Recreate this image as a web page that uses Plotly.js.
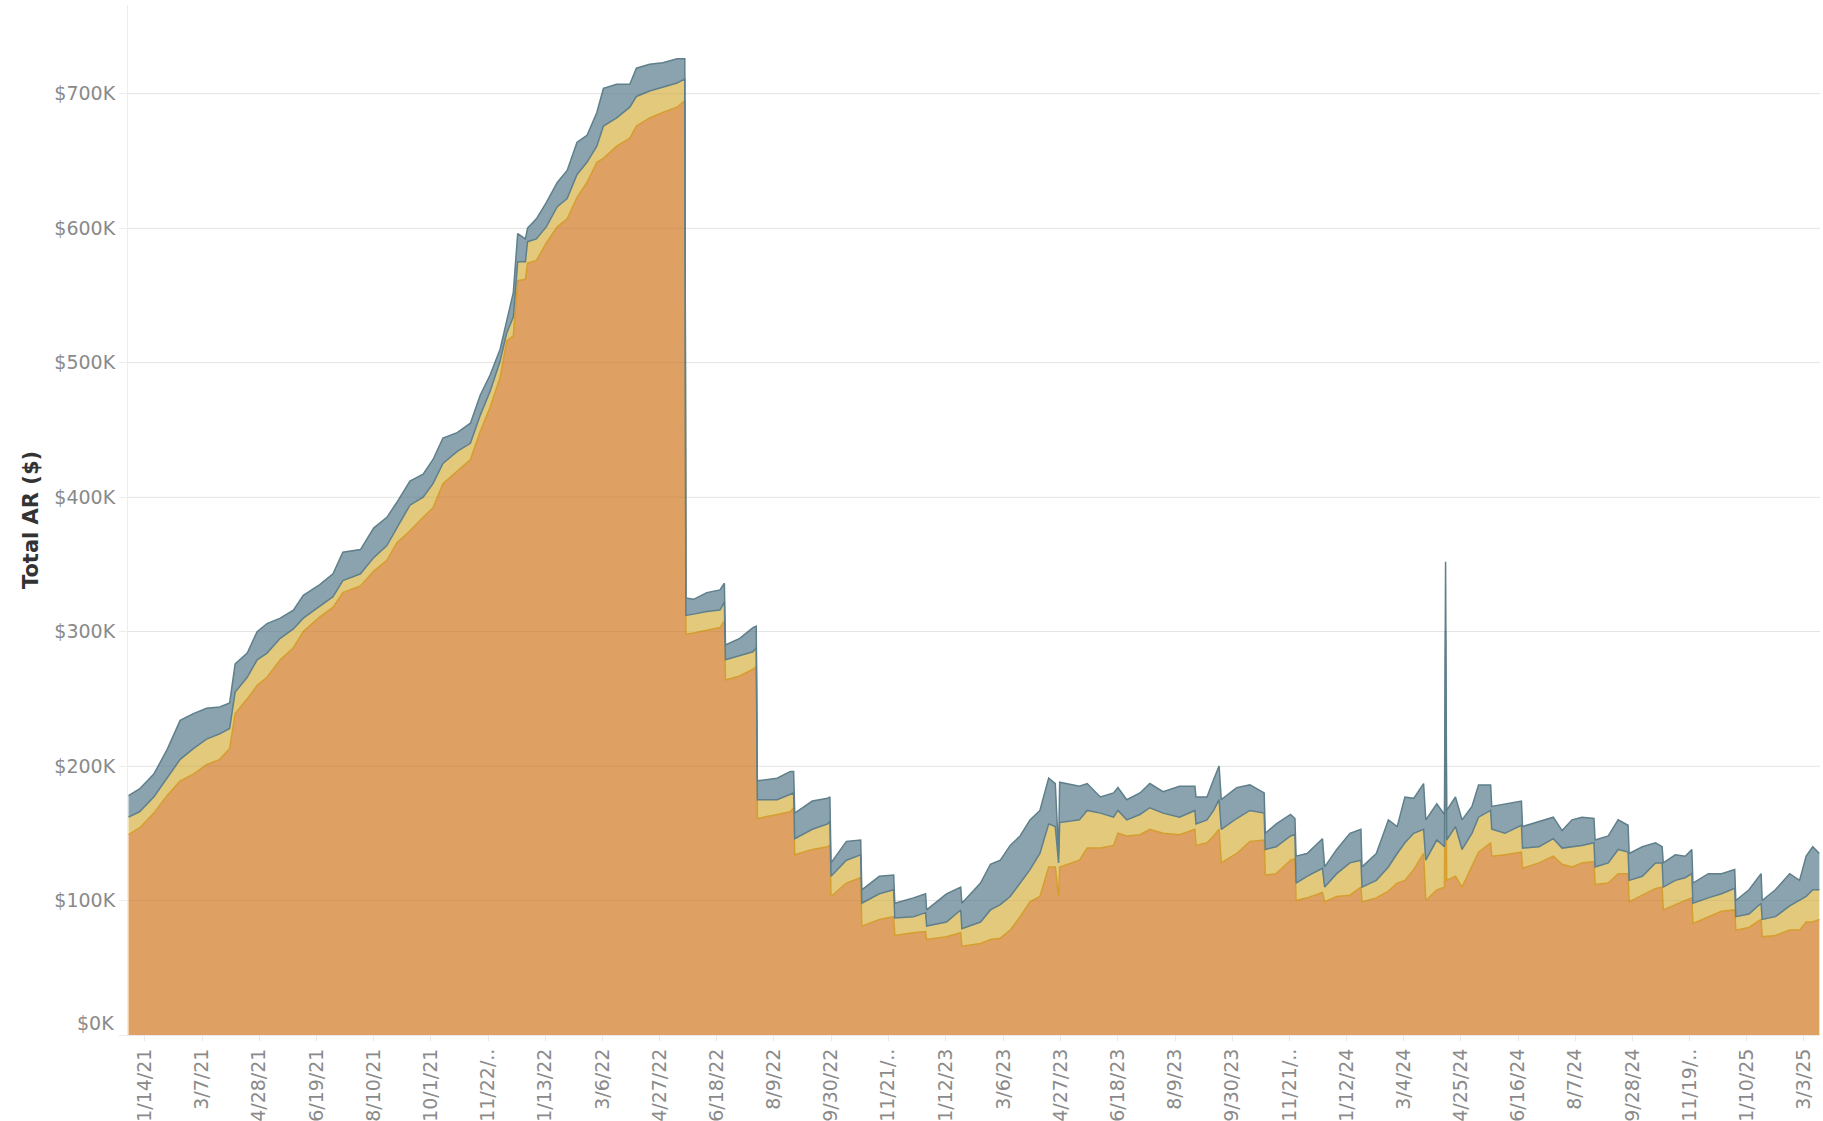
<!DOCTYPE html>
<html>
<head>
<meta charset="utf-8">
<script src="https://cdn.plot.ly/plotly-3.0.1.min.js"></script>
<style>
  html, body { margin: 0; padding: 0; background: #ffffff; }
  #chart { width: 1823px; height: 1121px; }
</style>
</head>
<body>
<div id="chart"></div>
<script>
// dates (snapshot days)
var dates = [
  "2020-12-30","2021-01-09","2021-01-22","2021-02-03","2021-02-15","2021-02-27","2021-03-11","2021-03-23","2021-04-01","2021-04-06",
  "2021-04-17","2021-04-26","2021-05-05","2021-05-17","2021-05-29","2021-06-07","2021-06-22","2021-07-04","2021-07-13","2021-07-29",
  "2021-08-10","2021-08-22","2021-08-31","2021-09-12","2021-09-24","2021-10-03","2021-10-12","2021-10-25","2021-11-06","2021-11-15",
  "2021-11-24","2021-12-03","2021-12-09","2021-12-15","2021-12-19","2021-12-26","2021-12-28","2022-01-05","2022-01-14","2022-01-24",
  "2022-02-02","2022-02-11","2022-02-20","2022-03-01","2022-03-07","2022-03-19","2022-03-31","2022-04-06","2022-04-18","2022-04-30",
  "2022-05-13","2022-05-20","2022-05-21","2022-05-28","2022-06-09","2022-06-21","2022-06-25","2022-06-26","2022-07-09","2022-07-21",
  "2022-07-24","2022-07-25","2022-08-12","2022-08-24","2022-08-27","2022-08-28","2022-09-13","2022-09-27","2022-09-29","2022-09-30",
  "2022-10-14","2022-10-27","2022-10-28","2022-11-13","2022-11-26","2022-11-27","2022-12-14","2022-12-25","2022-12-26","2023-01-13",
  "2023-01-26","2023-01-27","2023-02-13","2023-02-22","2023-03-03","2023-03-12","2023-03-21","2023-03-30","2023-04-08","2023-04-16",
  "2023-04-22","2023-04-25","2023-04-26","2023-05-14","2023-05-21","2023-06-02","2023-06-14","2023-06-18","2023-06-26","2023-07-08",
  "2023-07-17","2023-07-29","2023-08-13","2023-08-27","2023-08-28","2023-09-07","2023-09-13","2023-09-18","2023-09-20","2023-10-04",
  "2023-10-16","2023-10-29","2023-10-30","2023-11-09","2023-11-22","2023-11-26","2023-11-27","2023-12-07","2023-12-21","2023-12-23",
  "2024-01-03","2024-01-15","2024-01-25","2024-01-26","2024-02-08","2024-02-19","2024-02-27","2024-03-05","2024-03-13","2024-03-22",
  "2024-03-24","2024-04-03","2024-04-10","2024-04-11","2024-04-12","2024-04-20","2024-04-26","2024-05-05","2024-05-11","2024-05-22",
  "2024-05-23","2024-06-04","2024-06-19","2024-06-20","2024-07-05","2024-07-18","2024-07-26","2024-08-04","2024-08-13","2024-08-24",
  "2024-08-25","2024-09-06","2024-09-15","2024-09-24","2024-09-25","2024-10-07","2024-10-19","2024-10-25","2024-10-26","2024-11-06",
  "2024-11-15","2024-11-21","2024-11-22","2024-12-06","2024-12-18","2024-12-30","2024-12-31","2025-01-12","2025-01-23","2025-01-24",
  "2025-02-05","2025-02-18","2025-02-27","2025-03-05","2025-03-11","2025-03-17"
];

// AR in $K, bottom band (orange)
var orangeVals = [
  149,154,165,178,189,194,201,205,213,239,
  250,260,266,279,288,300,311,318,329,334,
  345,353,366,375,385,392,410,419,428,449,
  467,489,516,520,561,562,574,576,589,601,
  607,623,634,649,652,661,667,676,682,686,
  690,695,298,299,301,303,308,264,267,272,
  274,161,164,166,169,134,138,140,141,103,
  113,117,81,86,88,74,76,77,71,73,
  76,66,68,71,72,78,88,99,103,125,
  125,103,125,130,139,139,141,150,148,149,
  153,150,149,153,141,143,148,153,128,135,
  144,145,119,120,130,131,100,102,106,99,
  103,104,110,99,102,107,113,115,123,135,
  100,108,110,240,115,118,110,125,136,143,
  133,134,136,124,128,133,127,125,128,129,
  112,113,120,120,99,104,109,110,93,97,
  100,102,83,88,92,93,78,80,86,73,
  74,78,78,84,84,86
];

// middle band (yellow)
var yellowVals = [
  13,12,12,13,16,19,19,19,15,16,
  16,19,18,16,14,10,8,8,9,9,
  10,11,11,19,15,18,15,15,12,12,
  12,12,6,14,14,13,16,16,12,15,
  15,17,15,12,24,21,23,22,20,19,
  18,16,14,14,14,13,14,15,15,13,
  14,14,11,13,11,12,15,17,18,15,
  17,17,17,19,20,13,12,14,10,11,
  17,13,16,22,25,25,25,24,32,32,
  30,25,33,30,28,26,21,17,12,15,
  16,15,13,14,16,17,19,22,25,26,
  23,20,19,20,18,18,13,16,18,11,
  17,24,20,11,13,18,22,28,27,18,
  30,37,30,60,30,37,28,25,26,24,
  20,16,20,15,12,13,12,15,13,14,
  13,15,18,16,16,14,19,18,17,18,
  17,18,15,14,13,16,10,10,12,13,
  14,18,22,19,24,22
];

// top band (blue-grey)
var blueVals = [
  16,17,17,21,29,26,23,20,19,21,
  18,21,22,15,14,17,16,17,21,18,
  22,21,19,18,17,18,19,14,15,15,
  12,9,9,18,21,17,10,15,18,18,
  21,24,20,25,28,25,17,21,20,18,
  18,15,13,11,14,15,14,11,13,18,
  16,14,16,17,16,19,21,19,18,10,
  14,11,10,13,11,11,14,14,12,21,
  17,19,29,34,33,38,35,37,32,34,
  32,7,30,25,20,12,18,17,15,16,
  18,16,23,18,20,17,23,25,22,23,
  19,15,12,17,16,12,20,17,22,15,
  18,22,23,15,20,35,20,34,26,34,
  30,27,24,52,22,22,22,20,24,19,
  17,22,18,16,19,16,13,20,21,18,
  20,20,22,20,20,22,15,12,18,19,
  16,18,15,18,15,14,12,18,22,14,
  20,24,15,30,32,27
];

var tickDates = ["2021-01-14","2021-03-07","2021-04-28","2021-06-19","2021-08-10","2021-10-01","2021-11-22","2022-01-13",
  "2022-03-06","2022-04-27","2022-06-18","2022-08-09","2022-09-30","2022-11-21","2023-01-12","2023-03-06","2023-04-27",
  "2023-06-18","2023-08-09","2023-09-30","2023-11-21","2024-01-12","2024-03-04","2024-04-25","2024-06-16","2024-08-07",
  "2024-09-28","2024-11-19","2025-01-10","2025-03-03"];
var tickLabels = ["1/14/21","3/7/21","4/28/21","6/19/21","8/10/21","10/1/21","11/22/..","1/13/22",
  "3/6/22","4/27/22","6/18/22","8/9/22","9/30/22","11/21/..","1/12/23","3/6/23","4/27/23",
  "6/18/23","8/9/23","9/30/23","11/21/..","1/12/24","3/4/24","4/25/24","6/16/24","8/7/24",
  "9/28/24","11/19/..","1/10/25","3/3/25"];
var yTicks = [0, 100, 200, 300, 400, 500, 600, 700];
var yTickLabels = ["$0K", "$100K", "$200K", "$300K", "$400K", "$500K", "$600K", "$700K"];

var tickFont = {family: "DejaVu Sans", size: 19, color: "#8a8a8a"};

function band(vals, name, fill, lineColor){
    return {
        x: dates,
        y: vals,
        name: name,
        type: "scatter",
        mode: "lines",
        stackgroup: "ar",
        fillcolor: fill,
        line: {color: lineColor, width: 1.5, shape: "linear"},
        hoverinfo: "skip"
    };
}

var data = [
    band(orangeVals, "Band 1", "#DEA063", "#D69E2E"),
    band(yellowVals, "Band 2", "#E2C97C", "#5F7F8B"),
    band(blueVals, "Band 3", "#8AA3AE", "#5F7F8B")
];

var gridShapes = yTicks.slice(1).map(function(v){
    return {type: "line", xref: "paper", x0: 0, x1: 1, yref: "y", y0: v, y1: v,
            line: {color: "rgba(0,0,0,0.05)", width: 1}, layer: "above"};
});

// the $0K label sits just above the baseline, as in the original
var yLabelsShown = yTickLabels.map(function(t, i){ return i === 0 ? "" : t; });
var zeroLabel = {
    xref: "paper", x: 0, xanchor: "right", xshift: -12,
    yref: "y", y: yTicks[0], yanchor: "middle", yshift: 12,
    text: yTickLabels[0], showarrow: false, font: tickFont
};

var layout = {
    width: 1823,
    height: 1121,
    margin: {l: 128, r: 3, t: 5, b: 86},
    paper_bgcolor: "#ffffff",
    plot_bgcolor: "#ffffff",
    showlegend: false,
    shapes: gridShapes,
    annotations: [zeroLabel],
    xaxis: {
        type: "date",
        range: ["2020-12-29 13:00", "2025-03-17 14:00"],
        tickvals: tickDates,
        ticktext: tickLabels,
        tickangle: -90,
        tickfont: tickFont,
        showgrid: false,
        zeroline: false,
        showline: true,
        linecolor: "#e8e8e8",
        ticks: "outside",
        ticklen: 5,
        tickcolor: "#e8e8e8"
    },
    yaxis: {
        range: [0, 766],
        tickvals: yTicks,
        ticktext: yLabelsShown,
        tickfont: tickFont,
        gridcolor: "#f0f0f0",
        zeroline: false,
        showline: true,
        linecolor: "#ededed",
        ticks: "outside",
        ticklen: 8,
        tickcolor: "#ededed",
        automargin: false,
        title: {text: "<b>Total AR ($)</b>", font: {family: "DejaVu Sans", size: 21, color: "#333333"}, standoff: 10}
    }
};

Plotly.newPlot("chart", data, layout, {displayModeBar: false, staticPlot: true});
</script>
</body>
</html>
